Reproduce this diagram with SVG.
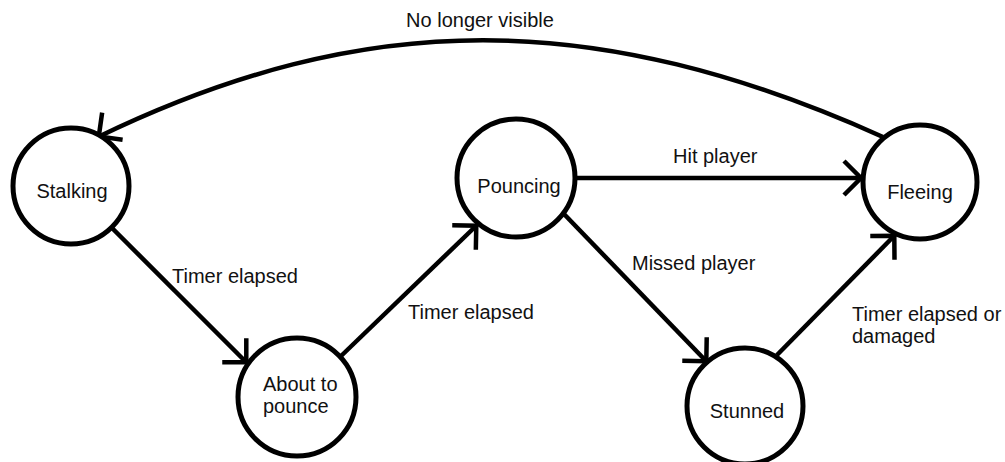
<svg xmlns="http://www.w3.org/2000/svg" width="1005" height="462" viewBox="0 0 1005 462">
<defs>
<style>
.node{fill:#fff;stroke:#000;stroke-width:5}
.edge{fill:none;stroke:#000;stroke-width:4.5}
.lbl{font-family:"Liberation Sans",Arial,sans-serif;font-size:20px;fill:#111}
.mid{text-anchor:middle}
</style>
<marker id="arr" markerUnits="userSpaceOnUse" orient="auto" refX="1" refY="0" markerWidth="40" markerHeight="40" viewBox="-20 -20 40 40" overflow="visible">
<path d="M-17,-17 L0,0 L-17,17" fill="none" stroke="#000" stroke-width="4.5"/>
</marker>
<marker id="arrc" markerUnits="userSpaceOnUse" orient="143" refX="1" refY="0" markerWidth="40" markerHeight="40" viewBox="-20 -20 40 40" overflow="visible">
<path d="M-17,-17 L0,0 L-17,17" fill="none" stroke="#000" stroke-width="4.5"/>
</marker>
</defs>
<rect width="1005" height="462" fill="#fff"/>
<g id="connectors">
<path class="edge" d="M112,228 L247,363" marker-end="url(#arr)"/>
<path class="edge" d="M340,357 L477,225" marker-end="url(#arr)"/>
<path class="edge" d="M573,178 L862,178" marker-end="url(#arr)"/>
<path class="edge" d="M563,213 L707,362" marker-end="url(#arr)"/>
<path class="edge" d="M777,355 L895,235" marker-end="url(#arr)"/>
<path class="edge" d="M883,137 C596,8 365,8 98,137" marker-end="url(#arrc)"/>
<text class="lbl mid" x="480" y="27">No longer visible</text>
<text class="lbl" x="172" y="283">Timer elapsed</text>
<text class="lbl" x="408" y="319">Timer elapsed</text>
<text class="lbl" x="673" y="163">Hit player</text>
<text class="lbl" x="632" y="270">Missed player</text>
<text class="lbl" x="852" y="321">Timer elapsed or</text>
<text class="lbl" x="852" y="343">damaged</text>
</g>
<g id="stalking">
<circle class="node" cx="71" cy="186" r="58"/>
<text class="lbl mid" x="72" y="198">Stalking</text>
</g>
<g id="about-to-pounce">
<circle class="node" cx="297" cy="397" r="59"/>
<text class="lbl" x="263" y="391">About to</text>
<text class="lbl" x="263" y="413">pounce</text>
</g>
<g id="pouncing">
<circle class="node" cx="516" cy="178" r="59"/>
<text class="lbl mid" x="519" y="193">Pouncing</text>
</g>
<g id="fleeing">
<circle class="node" cx="920" cy="182" r="57"/>
<text class="lbl mid" x="920" y="199">Fleeing</text>
</g>
<g id="stunned">
<circle class="node" cx="745" cy="406" r="58"/>
<text class="lbl mid" x="747" y="418">Stunned</text>
</g>
</svg>
